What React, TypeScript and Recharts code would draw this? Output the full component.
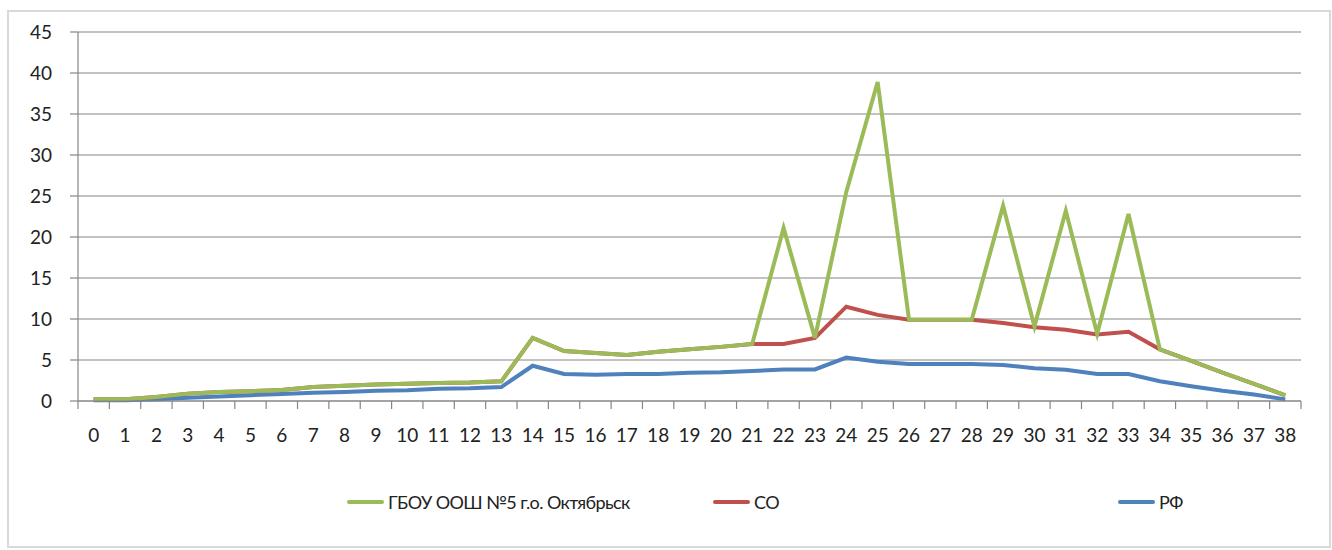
import React from 'react';
import { LineChart, Line, XAxis, YAxis, CartesianGrid } from 'recharts';

// categories 0..38
const categories = [
  0, 1, 2, 3, 4, 5, 6, 7, 8, 9, 10, 11, 12, 13, 14, 15, 16, 17, 18, 19,
  20, 21, 22, 23, 24, 25, 26, 27, 28, 29, 30, 31, 32, 33, 34, 35, 36, 37, 38,
];

const schoolValues = [
  0.2, 0.2, 0.5, 0.9, 1.1, 1.2, 1.35, 1.7, 1.85, 2.0, 2.1, 2.2, 2.25, 2.4, 7.7,
  6.1, 5.85, 5.6, 6.0, 6.3, 6.6, 6.95, 21.1, 7.7, 25.5, 38.9, 9.9, 9.9, 9.9,
  23.8, 9.1, 23.2, 8.2, 22.8, 6.3, 4.9, 3.45, 2.1, 0.7,
];

const regionValues = [
  0.2, 0.2, 0.5, 0.9, 1.1, 1.2, 1.35, 1.7, 1.85, 2.0, 2.1, 2.2, 2.25, 2.4, 7.7,
  6.1, 5.85, 5.6, 6.0, 6.3, 6.6, 6.95, 6.95, 7.7, 11.5, 10.5, 9.9, 9.9, 9.9,
  9.5, 9.0, 8.7, 8.1, 8.45, 6.3, 4.9, 3.45, 2.1, 0.7,
];

const countryValues = [
  0.1, 0.1, 0.2, 0.4, 0.55, 0.7, 0.85, 1.0, 1.1, 1.25, 1.3, 1.5, 1.55, 1.7, 4.3,
  3.3, 3.2, 3.3, 3.3, 3.45, 3.5, 3.65, 3.85, 3.85, 5.3, 4.8, 4.5, 4.5, 4.5,
  4.4, 4.0, 3.8, 3.3, 3.3, 2.4, 1.8, 1.25, 0.8, 0.2,
];

const yTicks = [0, 5, 10, 15, 20, 25, 30, 35, 40, 45];
const boundaryTicks = [...categories.map((c) => c - 0.5), 38.5];

const series = [
  { key: 'school', name: 'ГБОУ ООШ №5 г.о. Октябрьск', color: '#9BBB59' },
  { key: 'region', name: 'СО', color: '#C0504D' },
  { key: 'country', name: 'РФ', color: '#4F81BD' },
];

const data = categories.map((c, i) => ({
  x: c,
  school: schoolValues[i],
  region: regionValues[i],
  country: countryValues[i],
}));

const FONT = 'Lato, "Open Sans", sans-serif';
const GRID = '#868686';

export default function App() {
  const legendLeft = [347, 713, 1118];
  return (
    <div
      style={{
        position: 'fixed',
        left: 0,
        top: 0,
        width: 1332,
        height: 550,
        background: '#fff',
        fontFamily: FONT,
      }}
    >
      <div
        style={{
          position: 'absolute',
          left: 7,
          top: 10,
          width: 1320,
          height: 534,
          border: '2px solid #d9d9d9',
        }}
      />
      <div style={{ position: 'absolute', left: 0, top: 0 }}>
        <LineChart
          width={1332}
          height={550}
          data={data}
          margin={{ top: 32, right: 31, bottom: 89, left: 0 }}
        >
          <CartesianGrid vertical={false} stroke={GRID} strokeWidth={1.2} />
          <XAxis
            xAxisId="bounds"
            dataKey="x"
            type="number"
            domain={[-0.5, 38.5]}
            ticks={boundaryTicks}
            interval={0}
            height={10}
            tickSize={8}
            tickFormatter={() => ''}
            stroke={GRID}
            strokeWidth={1.2}
            allowDataOverflow
          />
          <XAxis
            xAxisId="main"
            dataKey="x"
            type="number"
            domain={[-0.5, 38.5]}
            ticks={categories}
            interval={0}
            axisLine={false}
            tickLine={false}
            tickSize={0}
            tickMargin={18}
            height={50}
            tick={{ fontSize: 19, fill: '#222', fontFamily: FONT }}
          />
          <YAxis
            domain={[0, 45]}
            ticks={yTicks}
            interval={0}
            width={78}
            tickSize={8}
            tickMargin={18}
            stroke={GRID}
            strokeWidth={1.2}
            tick={{ fontSize: 19, fill: '#222', fontFamily: FONT }}
          />
          {[...series].reverse().map((s) => (
            <Line
              key={s.key}
              xAxisId="main"
              dataKey={s.key}
              name={s.name}
              stroke={s.color}
              strokeWidth={4}
              dot={false}
              type="linear"
              isAnimationActive={false}
            />
          ))}
        </LineChart>
      </div>
      {series.map((s, i) => (
        <div
          key={s.key}
          style={{
            position: 'absolute',
            left: legendLeft[i],
            top: 491,
            display: 'flex',
            alignItems: 'center',
            fontSize: 18,
            letterSpacing: -0.6,
            color: '#222',
            whiteSpace: 'nowrap',
          }}
        >
          <div
            style={{
              width: 37,
              height: 4,
              borderRadius: 2,
              background: s.color,
              marginRight: 4,
            }}
          />
          <span>{s.name}</span>
        </div>
      ))}
    </div>
  );
}
